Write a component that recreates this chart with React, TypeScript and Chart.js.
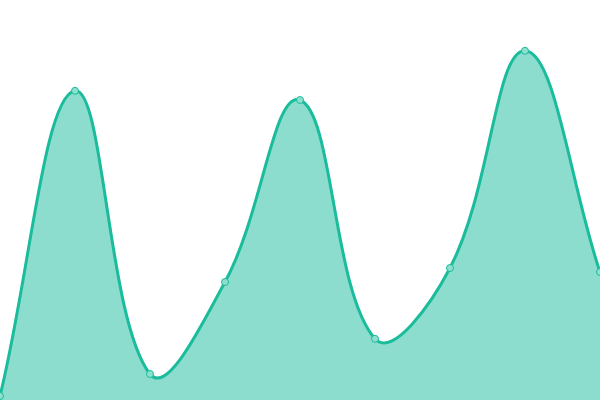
import { useEffect, useRef } from "react";
import Chart from "chart.js/auto";

const labels = ["1", "2", "3", "4", "5", "6", "7", "8", "9"];
const values = [1, 77.3, 6.5, 29.5, 75, 15.3, 33, 87.3, 32];

const App = () => {
  const chartRef = useRef<HTMLCanvasElement>(null);
  const chartInstance = useRef<Chart | null>(null);

  useEffect(() => {
    if (!chartRef.current) return;
    document.body.style.margin = "0";

    if (chartInstance.current) {
      chartInstance.current.destroy();
    }

    const ctx = chartRef.current.getContext("2d");
    if (!ctx) return;

    chartInstance.current = new Chart(ctx, {
      type: "line",
      data: {
        labels,
        datasets: [
          {
            data: values,
            fill: true,
            borderColor: "#1abc9c",
            backgroundColor: "rgba(26, 188, 156, 0.5)",
            borderWidth: 3,
            tension: 0.4,
            pointRadius: 3.5,
            pointBorderWidth: 1,
            pointBackgroundColor: "#8ddfce",
            pointBorderColor: "#1abc9c",
          },
        ],
      },
      options: {
        animation: false,
        responsive: true,
        maintainAspectRatio: false,
        layout: { padding: 0, autoPadding: false },
        plugins: {
          legend: { display: false },
          tooltip: { enabled: false },
        },
        scales: {
          x: { display: false, offset: false },
          y: { display: false, min: 0, max: 100 },
        },
      },
    });

    return () => {
      if (chartInstance.current) {
        chartInstance.current.destroy();
        chartInstance.current = null;
      }
    };
  }, []);

  return (
    <div style={{ position: "absolute", left: 0, top: 0, width: 600, height: 400 }}>
      <canvas ref={chartRef} />
    </div>
  );
};

export default App;
